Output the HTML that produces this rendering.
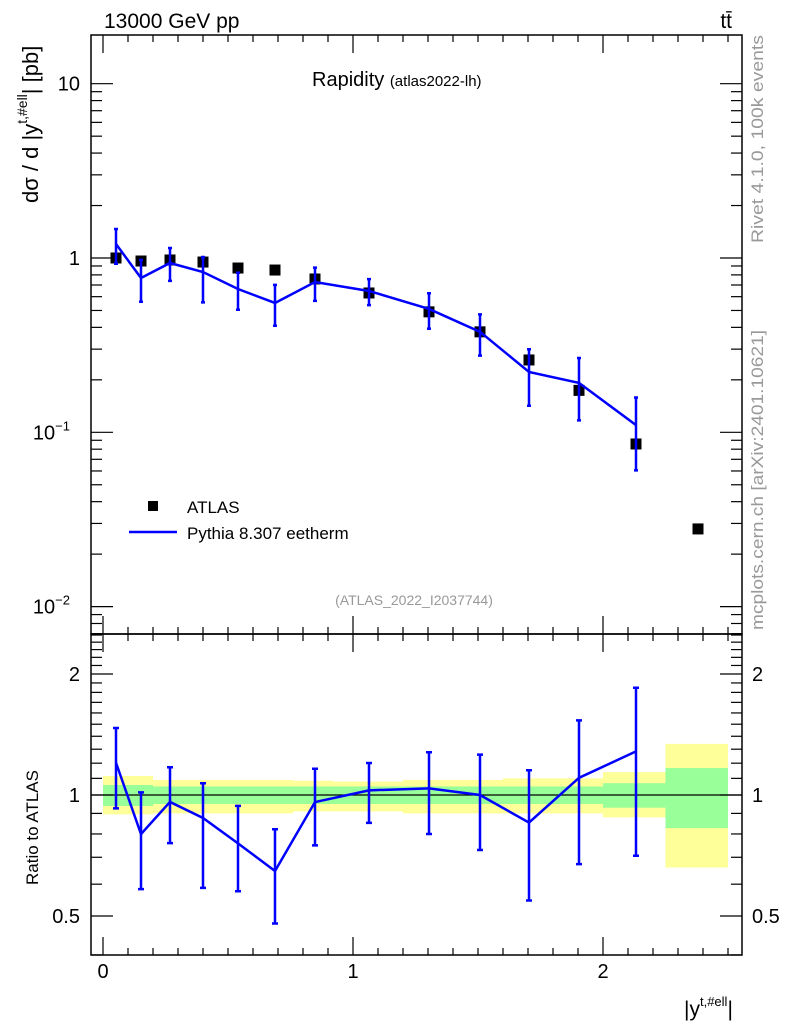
<!DOCTYPE html>
<html><head><meta charset="utf-8"><style>
body{margin:0;background:#fff}
svg{display:block;font-family:"Liberation Sans",sans-serif}
</style></head><body>
<svg id="c" width="786" height="1024" viewBox="0 0 786 1024"></svg>
<script>
const binEdges=[0,0.1,0.2,0.34,0.46,0.62,0.76,0.92,1.2,1.4,1.6,1.8,2.0,2.25,2.5];
const dataX=[0.052,0.152,0.268,0.4,0.54,0.688,0.848,1.064,1.304,1.508,1.704,1.904,2.132,2.38];
const dataY=[1.0,0.961,0.974,0.948,0.876,0.853,0.758,0.630,0.491,0.377,0.26,0.174,0.0857,0.0279];
const mcY=[1.203,0.768,0.936,0.831,0.664,0.552,0.728,0.647,0.51,0.377,0.222,0.192,0.110];
const mcRelUp=[1.22,1.27,1.22,1.22,1.24,1.27,1.21,1.17,1.23,1.26,1.35,1.39,1.44];
const mcRelDn=[0.77,0.73,0.79,0.67,0.76,0.74,0.78,0.83,0.77,0.73,0.64,0.61,0.55];
const yelUp=[1.115,1.115,1.09,1.09,1.09,1.09,1.085,1.08,1.09,1.09,1.10,1.10,1.14,1.34];
const yelDn=[0.895,0.895,0.90,0.90,0.90,0.90,0.91,0.91,0.90,0.90,0.90,0.90,0.88,0.66];
const grnUp=[1.059,1.059,1.05,1.05,1.05,1.05,1.05,1.05,1.05,1.05,1.05,1.05,1.07,1.167];
const grnDn=[0.939,0.939,0.95,0.95,0.95,0.95,0.95,0.95,0.95,0.95,0.95,0.95,0.93,0.827];

const L=91,R=742,T=35,MB=634,B=955;
const sx=v=>103+250*v;
const sy=v=>258-174.3*Math.log10(v);
const ry=v=>795-402*Math.log10(v);
const svg=document.getElementById('c');
const NS='http://www.w3.org/2000/svg';
function mk(tag,at,parent){const e=document.createElementNS(NS,tag);for(const k in at)e.setAttribute(k,at[k]);(parent||svg).appendChild(e);return e;}
function txt(s,at){const e=mk('text',at);e.textContent=s;return e;}

for(let i=0;i<yelUp.length;i++){
  const x0=sx(binEdges[i]),x1=sx(binEdges[i+1]);
  const y=mk('rect',{x:x0,y:ry(yelUp[i]),width:x1-x0,height:ry(yelDn[i])-ry(yelUp[i]),fill:'#ffff99'});
  
  
  const g=mk('rect',{x:x0,y:ry(grnUp[i]),width:x1-x0,height:ry(grnDn[i])-ry(grnUp[i]),fill:'#99ff99'});
  
  
}
const ref=mk('line',{x1:L,x2:R,y1:ry(1),y2:ry(1),stroke:'#000','stroke-width':1.2});



const f1=mk('rect',{x:L,y:T,width:R-L,height:MB-T,fill:'none',stroke:'#000','stroke-width':1.5});


const f2=mk('rect',{x:L,y:MB,width:R-L,height:B-MB,fill:'none',stroke:'#000','stroke-width':1.5});



for(let k=0;k<=25;k++){
  const v=k/10,x=sx(v),maj=k%10===0,len=maj?18:7;
  [[T,1],[MB,-1],[MB,1],[B,-1]].forEach(([y0,d])=>{
    mk('line',{x1:x,x2:x,y1:y0,y2:y0+d*len,stroke:'#000','stroke-width':1.2});
  });
  if(maj){const t=txt(String(k/10),{x:x,y:978,'font-size':20,'text-anchor':'middle'});
    
    }
}
for(let d=-3;d<=1;d++){
  for(let m=1;m<=9;m++){
    const v=m*Math.pow(10,d),y=sy(v);
    if(y<T||y>MB)continue;
    const len=m===1?22:11;
    mk('line',{x1:L,x2:L+len,y1:y,y2:y,stroke:'#000','stroke-width':1.2});
    mk('line',{x1:R,x2:R-len,y1:y,y2:y,stroke:'#000','stroke-width':1.2});
  }
}
[[10,'10',null],[1,'1',null],[0.1,'10','−1'],[0.01,'10','−2']].forEach(([v,b,e])=>{
  const t=mk('text',{x:e?70:80,y:sy(v)+7,'font-size':20,'text-anchor':'end'});
  t.textContent=b;
  if(e){const s=mk('tspan',{dy:-9,'font-size':13},t);s.textContent=e;}
  
  
});
[0.4,0.5,0.6,0.7,0.8,0.9,1,1.1,1.2,1.3,1.4,1.5,1.6,1.7,1.8,1.9,2,2.1,2.2,2.3,2.4,2.5].forEach(v=>{
  const y=ry(v);if(y<MB||y>B)return;
  const maj=(v===0.5||v===1||v===2),len=maj?22:11;
  mk('line',{x1:L,x2:L+len,y1:y,y2:y,stroke:'#000','stroke-width':1.2});
  mk('line',{x1:R,x2:R-len,y1:y,y2:y,stroke:'#000','stroke-width':1.2});
  if(maj){
    const a=txt(String(v),{x:80,y:y+7,'font-size':20,'text-anchor':'end'});
    
    
    const b=txt(String(v),{x:752,y:y+7,'font-size':20});
    
    
  }
});

dataX.forEach((x,i)=>{
  const r=mk('rect',{x:sx(x)-5.5,y:sy(dataY[i])-5.5,width:11,height:11,fill:'#000'});
  
  
});
let pm='',pr='';
mcY.forEach((v,i)=>{
  const x=sx(dataX[i]);
  pm+=(i?'L':'M')+x+','+sy(v);
  pr+=(i?'L':'M')+x+','+ry(v/dataY[i]);
  const e1=mk('path',{d:`M${x},${sy(v*mcRelUp[i])}V${sy(v*mcRelDn[i])}M${x-2},${sy(v*mcRelUp[i])}h4M${x-2},${sy(v*mcRelDn[i])}h4`,stroke:'#0000ff','stroke-width':2.5,fill:'none'});
  
  
  const r=v/dataY[i];
  const e2=mk('path',{d:`M${x},${ry(r*mcRelUp[i])}V${ry(r*mcRelDn[i])}M${x-3},${ry(r*mcRelUp[i])}h6M${x-3},${ry(r*mcRelDn[i])}h6`,stroke:'#0000ff','stroke-width':2.5,fill:'none'});
  
  
});
const l1=mk('path',{d:pm,stroke:'#0000ff','stroke-width':2.5,fill:'none'});


const l2=mk('path',{d:pr,stroke:'#0000ff','stroke-width':2.5,fill:'none'});



const lg=mk('g',{});


mk('rect',{x:148,y:501,width:10,height:10,fill:'#000'},lg);
mk('line',{x1:129,x2:177,y1:532,y2:532,stroke:'#0000ff','stroke-width':2.5},lg);
let t=mk('text',{x:187,y:513,'font-size':17},lg);t.textContent='ATLAS';
t=mk('text',{x:187,y:539,'font-size':17},lg);t.textContent='Pythia 8.307 eetherm';

t=txt('13000 GeV pp',{x:104,y:28,'font-size':21});
t=txt('tt̄',{x:732,y:28,'font-size':21,'text-anchor':'end'});
t=mk('text',{x:312,y:86,'font-size':20});t.textContent='Rapidity ';
let s=mk('tspan',{'font-size':15},t);s.textContent='(atlas2022-lh)';

t=txt('(ATLAS_2022_I2037744)',{x:414,y:605,'font-size':14,fill:'#999','text-anchor':'middle'});
t=mk('text',{x:0,y:0,'font-size':22,transform:'translate(38,203) rotate(-90)','text-anchor':'start'});
t.textContent='dσ / d |y';s=mk('tspan',{dy:-11,'font-size':14},t);s.textContent='t,#ell';s=mk('tspan',{dy:11},t);s.textContent='| [pb]';

t=txt('Ratio to ATLAS',{x:0,y:0,'font-size':17,transform:'translate(38,885) rotate(-90)'});
t=mk('text',{x:684,y:1016,'font-size':21});t.textContent='|y';s=mk('tspan',{dy:-10,'font-size':13},t);s.textContent='t,#ell';s=mk('tspan',{dy:10},t);s.textContent='|';

t=txt('Rivet 4.1.0,  100k events',{x:0,y:0,'font-size':17,fill:'#999',transform:'translate(763,243) rotate(-90)',textLength:208,lengthAdjust:'spacingAndGlyphs'});
t=txt('mcplots.cern.ch [arXiv:2401.10621]',{x:0,y:0,'font-size':17,fill:'#999',transform:'translate(763,630) rotate(-90)',textLength:300,lengthAdjust:'spacingAndGlyphs'});
</script>
</body></html>
